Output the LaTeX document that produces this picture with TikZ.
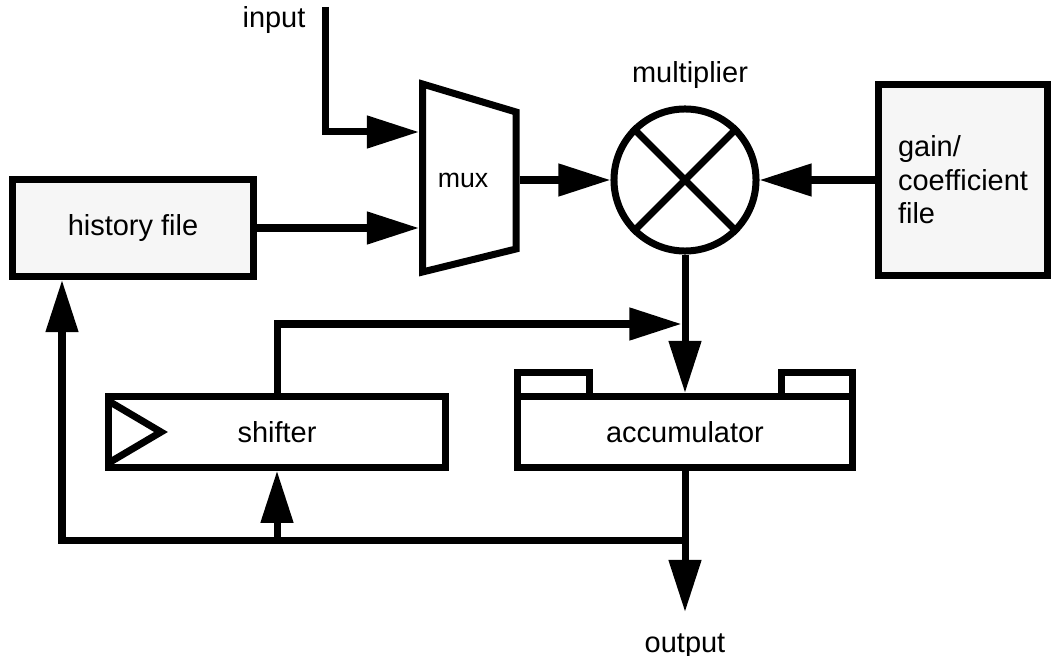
\documentclass[tikz,border=0pt]{standalone}
\usepackage{fontspec}
\setmainfont{Liberation Sans}
\usepackage{xcolor}
\usetikzlibrary{arrows.meta}
\definecolor{filegray}{HTML}{F6F6F6}
\newcommand{\bigfont}{\fontsize{20.6}{23.8}\selectfont}
\newcommand{\unitbox}[4][]{\node[unit,#1] at (#2) (#3) {#4}}
\tikzset{
  wire/.style={line width=0.175cm},
  unit/.style={wire,draw,rectangle,inner sep=0pt,font=\bigfont},
  flow/.style={wire,-{Triangle[length=1.3cm,width=0.78cm]}},
  lbl/.style={font=\bigfont,inner sep=0pt},
}

\begin{document}
\begin{tikzpicture}[x=0.025cm,y=-0.025cm]
  \useasboundingbox (0,0) rectangle (1053,656);
  % register files and datapath blocks
  \unitbox[fill=filegray,minimum width=6cm,minimum height=2.425cm]{133,228}{hist}{history file};
  \unitbox[fill=filegray,minimum width=4.2125cm,minimum height=4.75cm,align=left]{963,180}{gain}{gain/\\coefficient\\file};
  \unitbox[minimum width=8.3875cm,minimum height=1.775cm]{685,432}{acc}{accumulator};
  \unitbox[minimum width=8.4375cm,minimum height=1.7625cm]{277,432}{shift}{shifter};
  \node[wire,draw,circle,inner sep=0pt,minimum size=3.55cm] at (685,180) (mul) {};
  \draw[wire] (mul.45) -- (mul.225)
              (mul.135) -- (mul.315);
  \node[lbl,anchor=base] at (690,83) (mullbl) {multiplier};
  % mux trapezoid
  \draw[wire] (422.5,84) -- (516,112) -- (516,249) -- (422.5,272) -- cycle;
  \node[lbl,font=\fontsize{19}{22}\selectfont] at (463,180) (mux) {mux};
  % accumulator tabs and shifter mark
  \draw[wire] (517.5,396.5) |- (589,372) -- (589,396.5);
  \draw[wire] (781,396.5) |- (852.5,372) -- (852.5,396.5);
  \draw[wire] (108.5,401) -- (161,432) -- (108.5,463);
  % io labels
  \node[lbl,anchor=base] at (274,28) (in) {input};
  \node[lbl,anchor=base] at (685,652) (out) {output};
  \coordinate (intop) at (325,7);
  \coordinate (muxa) at (419,132);
  \coordinate (muxb) at (419,228);
  \coordinate (muxo) at (519.5,180);
  \coordinate (join) at (681.5,324);
  \coordinate (tap) at (685,540);
  \coordinate (fbx) at (62,540);
  \coordinate (outtip) at (685,612);
  % connections
  \draw[flow] (intop) |- (muxa);
  \draw[flow] (hist.east) -- (muxb);
  \draw[flow] (muxo) -- (mul.west);
  \draw[flow] (gain.west) -- (mul.east);
  \draw[flow] (mul.south) -- (acc.north);
  \draw[flow] (shift.north) |- (join);
  \draw[flow] (acc.south) -- (outtip);
  \draw[flow] (tap) -- (fbx) -- (fbx |- hist.south);
  \draw[flow] (shift.south |- tap) -- (shift.south);
\end{tikzpicture}
\end{document}
